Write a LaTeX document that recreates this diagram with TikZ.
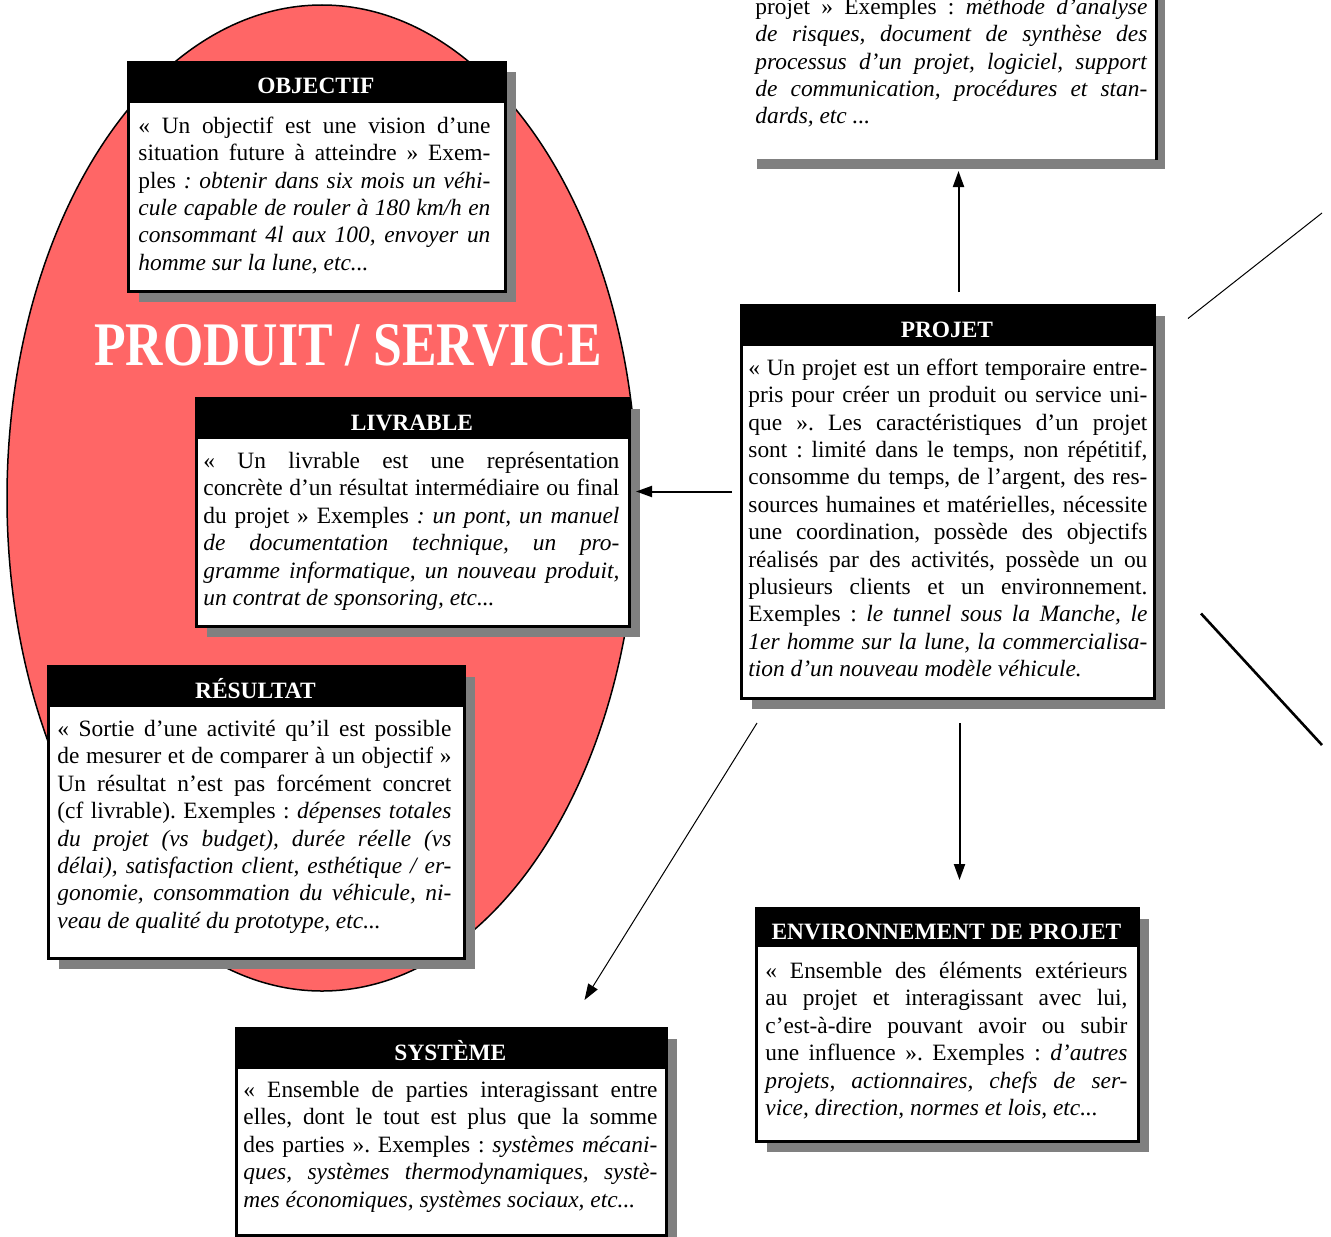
\documentclass[tikz,border=0pt]{standalone}
\usepackage{fontspec}
\usepackage{graphicx}
\setmainfont{Liberation Serif}
\usetikzlibrary{shadows,arrows.meta}

\definecolor{rougeprod}{HTML}{FF6666}
\definecolor{ombregris}{HTML}{808080}

% une ligne justifiee / la derniere ligne d'un paragraphe
\newlength{\largeur}
\newcommand{\jus}[1]{\hbox to\largeur{\strut#1}}
\newcommand{\der}[1]{\hbox{\strut#1}}

\tikzset{
  cadre/.style 2 args={draw, line width=1.5pt, fill=white, anchor=north west, inner sep=0pt,
    minimum width=#1*0.5pt, minimum height=#2*0.5pt,
    drop shadow={shadow xshift=5pt, shadow yshift=-5pt, fill=ombregris, opacity=1}},
  bandeau/.style={fill=black, text=white, anchor=north west, inner sep=0pt,
    minimum width=#1*0.5pt, minimum height=21pt, text height=11.6pt, text depth=0pt,
    font=\fontsize{11.7}{13}\selectfont\bfseries},
  texte/.style={anchor=north west, inner sep=0pt, text width=#1,
    font=\fontsize{11.7}{13.68}\selectfont,
    execute at begin node={\setlength{\largeur}{#1}\frenchspacing
      \spaceskip=0.25em plus 1em minus 0.1em}},
  fleche/.style={-{Triangle[length=8pt,width=5.5pt]}, line width=1pt},
}

\begin{document}
\begin{tikzpicture}[x=0.5pt, y=-0.5pt]
\useasboundingbox (0,0) rectangle (1331,1236);
\clip (0,0) rectangle (1331,1236);

% Produit / service
\draw[fill=rougeprod, line width=0.75pt] (322,498) ellipse [x radius=157.5pt, y radius=246.5pt];
\node[text=white, inner sep=0pt, font=\fontsize{31}{31}\selectfont\bfseries] (produit) at (348,345)
  {\scalebox{0.835}[1]{PRODUIT / SERVICE}};

% Boite du haut (coupee)
\node[cadre={408}{300}, draw=none] (haut) at (745,-143) {};
\draw[line width=1.5pt] (haut.north east) -- (haut.south east);
\node[texte=196pt] (haut-txt) at (755,-5) {%
  \jus{projet » Exemples : \textit{méthode d’analyse}}
  \jus{\textit{de risques, document de synthèse des}}
  \jus{\textit{processus d’un projet, logiciel, support}}
  \jus{\textit{de communication, procédures et stan-}}
  \der{\textit{dards, etc ...}}};

% Objectif
\node[cadre={377}{229}] (objectif) at (127,61) {};
\node[bandeau=377] (objectif-titre) at (objectif.north west) {OBJECTIF};
\node[texte=176pt] (objectif-txt) at (138,114) {%
  \jus{« Un objectif est une vision d’une}
  \jus{situation future à atteindre » Exem-}
  \jus{ples \textit{: obtenir dans six mois un véhi-}}
  \jus{\textit{cule capable de rouler à 180 km/h en}}
  \jus{\textit{consommant 4l aux 100, envoyer un}}
  \der{\textit{homme sur la lune, etc...}}};

% Livrable
\node[cadre={433}{228}] (livrable) at (195,397) {};
\node[bandeau=433] (livrable-titre) at (livrable.north west) {LIVRABLE};
\node[texte=208pt] (livrable-txt) at (203,449) {%
  \jus{« Un livrable est une représentation}
  \jus{concrète d’un résultat intermédiaire ou final}
  \jus{du projet » Exemples \textit{: un pont, un manuel}}
  \jus{\textit{de documentation technique, un pro-}}
  \jus{\textit{gramme informatique, un nouveau produit,}}
  \der{\textit{un contrat de sponsoring, etc...}}};

% Resultat
\node[cadre={416}{292}] (resultat) at (47,665) {};
\node[bandeau=416] (resultat-titre) at (resultat.north west) {RÉSULTAT};
\node[texte=197pt] (resultat-txt) at (57,717) {%
  \jus{« Sortie d’une activité qu’il est possible}
  \jus{de mesurer et de comparer à un objectif »}
  \jus{Un résultat n’est pas forcément concret}
  \jus{(cf livrable). Exemples : \textit{dépenses totales}}
  \jus{\textit{du projet (vs budget), durée réelle (vs}}
  \jus{\textit{délai), satisfaction client, esthétique / er-}}
  \jus{\textit{gonomie, consommation du véhicule, ni-}}
  \der{\textit{veau de qualité du prototype, etc...}}};

% Systeme
\node[cadre={430}{207}] (systeme) at (235,1027) {};
\node[bandeau=430] (systeme-titre) at (systeme.north west) {SYSTÈME};
\node[texte=207pt] (systeme-txt) at (243,1078) {%
  \jus{« Ensemble de parties interagissant entre}
  \jus{elles, dont le tout est plus que la somme}
  \jus{des parties ». Exemples : \textit{systèmes mécani-}}
  \jus{\textit{ques, systèmes thermodynamiques, systè-}}
  \der{\textit{mes économiques, systèmes sociaux, etc...}}};

% Environnement de projet
\node[cadre={382}{233}] (environnement) at (755,907) {};
\node[bandeau=382, minimum height=20pt] (environnement-titre) at (environnement.north west) {ENVIRONNEMENT DE PROJET};
\node[texte=181pt] (environnement-txt) at (765,959) {%
  \jus{« Ensemble des éléments extérieurs}
  \jus{au projet et interagissant avec lui,}
  \jus{c’est-à-dire pouvant avoir ou subir}
  \jus{une influence ». Exemples : \textit{d’autres}}
  \jus{\textit{projets, actionnaires, chefs de ser-}}
  \der{\textit{vice, direction, normes et lois, etc...}}};

% Projet
\node[cadre={413}{393}] (projet) at (740,304) {};
\node[bandeau=413] (projet-titre) at (projet.north west) {PROJET};
\node[texte=199.5pt] (projet-txt) at (748,356) {%
  \jus{« Un projet est un effort temporaire entre-}
  \jus{pris pour créer un produit ou service uni-}
  \jus{que ». Les caractéristiques d’un projet}
  \jus{sont : limité dans le temps, non répétitif,}
  \jus{consomme du temps, de l’argent, des res-}
  \jus{sources humaines et matérielles, nécessite}
  \jus{une coordination, possède des objectifs}
  \jus{réalisés par des activités, possède un ou}
  \jus{plusieurs clients et un environnement.}
  \jus{Exemples : \textit{le tunnel sous la Manche, le}}
  \jus{\textit{1er homme sur la lune, la commercialisa-}}
  \der{\textit{tion d’un nouveau modèle véhicule.}}};

% Fleches
\draw[fleche] ([xshift=5.25pt, yshift=6pt]projet.north) -- ([xshift=4pt, yshift=-5.5pt]haut.south);
\draw[fleche] ([xshift=-4pt, yshift=5.25pt]projet.west) -- ([xshift=2.5pt, yshift=10.5pt]livrable.east);
\draw[fleche] ([xshift=5.75pt, yshift=-11.5pt]projet.south) -- ([xshift=6pt, yshift=13.5pt]environnement.north);
\draw[fleche, line width=0.5pt] ([xshift=8.5pt, yshift=-11.5pt]projet.south west) -- ([xshift=66.5pt, yshift=13.5pt]systeme.north);

% Liens vers la droite
\coordinate (versA) at (1322,213);
\coordinate (versB) at (1322,745);
\draw[line width=0.5pt] ([xshift=16pt, yshift=91.75pt]projet.east) -- (versA);
\draw[line width=1.3pt] ([xshift=22.5pt, yshift=-55.75pt]projet.east) -- (versB);

\end{tikzpicture}
\end{document}
